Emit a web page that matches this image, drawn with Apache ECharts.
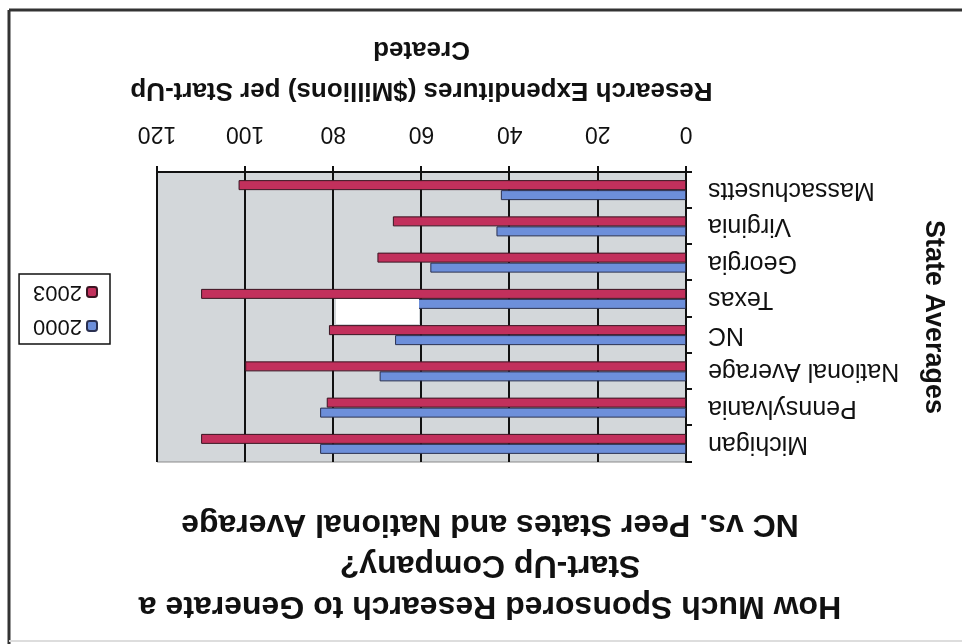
<!DOCTYPE html>
<html><head><meta charset="utf-8">
<script src="https://cdn.jsdelivr.net/npm/echarts@6/dist/echarts.min.js"></script>
<style>
html,body{margin:0;padding:0;background:#fff;overflow:hidden}
#wrap{width:962px;height:644px;transform:rotate(180deg);transform-origin:50% 50%}
#chart{width:962px;height:644px}
</style></head>
<body><div id="wrap"><div id="chart"></div></div>
<script>
const categories = ["Michigan","Pennsylvania","National Average","NC","Texas","Georgia","Virginia","Massachusetts"];
const values2000 = [83, 83, 69.5, 66, 65, 58, 43, 42];
const values2003 = [110, 81.5, 100, 81, 110, 70, 66.5, 101.5];
const xTicks = [0, 20, 40, 60, 80, 100, 120];
const FONT = "'Liberation Sans', Arial, sans-serif";

const chart = echarts.init(document.getElementById('chart'), null, {renderer:'canvas'});
chart.setOption({
  backgroundColor: '#fff',
  animation: false,
  title: {
    text: 'How Much Sponsored Research to Generate a\nStart-Up Company?\nNC vs. Peer States and National Average',
    left: 467, top: 13, textAlign: 'center',
    textStyle: {fontFamily: FONT, fontSize: 32, fontWeight: 'bold', color: '#111', lineHeight: 41, align: 'center'}
  },
  legend: {
    orient: 'vertical', left: 852, top: 300,
    data: ['2000', '2003'],
    itemWidth: 10, itemHeight: 10, itemGap: 12,
    borderColor: '#111', borderWidth: 1.5, padding: [7, 14, 7, 12],
    textStyle: {fontFamily: FONT, fontSize: 22, color: '#111'}
  },
  grid: {
    left: 276, right: 157, top: 182, bottom: 172,
    show: true, backgroundColor: '#d3d7da', borderColor: '#8a8a8a', borderWidth: 1
  },
  xAxis: {
    type: 'value', min: xTicks[0], max: xTicks[xTicks.length-1], interval: 20,
    name: 'Research Expenditures ($Millions) per Start-Up\nCreated',
    nameLocation: 'middle', nameGap: 61,
    nameTextStyle: {fontFamily: FONT, fontSize: 26, fontWeight: 'bold', color: '#111', lineHeight: 41},
    axisLine: {show: true, lineStyle: {color: '#111', width: 2}},
    axisTick: {show: true, length: 6, lineStyle: {color: '#111', width: 2}},
    axisLabel: {fontFamily: FONT, fontSize: 23, color: '#111', margin: 27},
    splitLine: {show: true, lineStyle: {color: '#111', width: 2}}
  },
  yAxis: {
    type: 'category', data: categories, inverse: true,
    name: 'State Averages', nameLocation: 'middle', nameGap: 234, nameRotate: 90,
    nameTextStyle: {fontFamily: FONT, fontSize: 27, fontWeight: 'bold', color: '#111'},
    axisLine: {show: true, lineStyle: {color: '#111', width: 2}},
    axisTick: {show: true, length: 6, alignWithLabel: false, lineStyle: {color: '#111', width: 2}},
    axisLabel: {fontFamily: FONT, fontSize: 25, color: '#111', margin: 22}
  },
  series: [
    {name: '2000', type: 'bar', data: values2000, barWidth: 10, barGap: '0%',
     itemStyle: {color: '#6d8fda', borderColor: '#2a3050', borderWidth: 1}},
    {name: '2003', type: 'bar', data: values2003, barWidth: 10, barGap: '0%',
     itemStyle: {color: '#c2305c', borderColor: '#3a1522', borderWidth: 1}}
  ],
  graphic: [
    {type: 'rect', shape: {x: 543, y: 320, width: 83, height: 25}, style: {fill: '#ffffff'}, z: 100},
    {type: 'line', shape: {x1: 0, y1: 634, x2: 953, y2: 634}, style: {stroke: '#333', lineWidth: 3}, z: 100},
    {type: 'line', shape: {x1: 953, y1: 0, x2: 953, y2: 634}, style: {stroke: '#333', lineWidth: 3}, z: 100},
    {type: 'line', shape: {x1: 0, y1: 3, x2: 953, y2: 3}, style: {stroke: '#dddddd', lineWidth: 2}, z: 100}
  ]
});
</script></body></html>
